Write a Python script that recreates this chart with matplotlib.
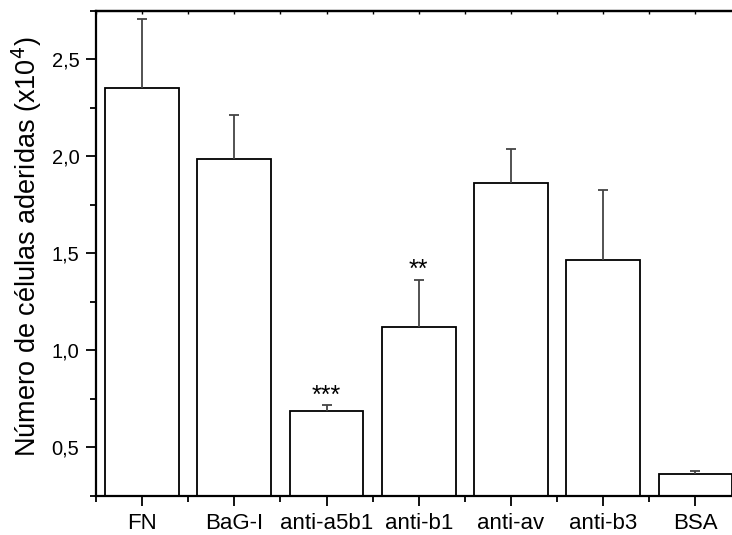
import numpy as np
import matplotlib.pyplot as plt
from matplotlib.ticker import MultipleLocator, FixedLocator

plt.rcParams["font.family"] = ["Liberation Sans", "DejaVu Sans"]

groups = ["FN", "BaG-I", "anti-a5b1", "anti-b1", "anti-av", "anti-b3", "BSA"]
means = [2.35, 1.985, 0.69, 1.12, 1.86, 1.465, 0.365]
errors = [0.355, 0.23, 0.027, 0.243, 0.18, 0.36, 0.015]
stars = ["", "", "***", "**", "", "", ""]

x = np.arange(1, len(groups) + 1)
means = np.array(means)
errors = np.array(errors)

fig = plt.figure(figsize=(7.32, 5.35), dpi=100)
ax = fig.add_axes([0.1311, 0.0729, 0.8819, 0.9071])

ax.bar(x, means, width=0.8, color="white", edgecolor="black", linewidth=1.3, zorder=2)

# upper half of the error bars only
ax.vlines(x, means, means + errors, color="#444444", linewidth=1.3, zorder=3)
ax.plot(x, means + errors, linestyle="none", marker="_", markersize=7.5,
        markeredgewidth=1.3, color="#444444", zorder=3)

for xi, top, s in zip(x, means + errors, stars):
    if s:
        ax.annotate(s, (xi, top), xytext=(0, -1.5), textcoords="offset points",
                    ha="center", va="bottom", fontsize=18)

ax.set_xlim(0.5, 7.5)
ax.set_ylim(0.25, 2.75)

ax.set_xticks(x)
ax.set_xticklabels(groups, fontsize=16)
ax.xaxis.set_minor_locator(FixedLocator(np.arange(0.5, 8.0, 1.0)))
ax.set_yticks([0.5, 1.0, 1.5, 2.0, 2.5])
ax.set_yticklabels(["0,5", "1,0", "1,5", "2,0", "2,5"], fontsize=14.5)
ax.yaxis.set_minor_locator(MultipleLocator(0.25))

ax.tick_params(which="major", direction="out", length=7, width=1.3, pad=5)
ax.tick_params(which="minor", direction="out", length=4, width=1.3)
ax.tick_params(axis="y", which="major", pad=5)

# small inward ticks along the top edge
top = ax.secondary_xaxis("top")
top.set_xticks(np.arange(0.5, 8.0, 0.5))
top.tick_params(direction="in", length=2, width=1.0, labeltop=False)
top.spines["top"].set_linewidth(1.6)

for sp in ax.spines.values():
    sp.set_linewidth(1.6)

ax.set_ylabel("Número de células aderidas (x10$^4$)", fontsize=19.5)
ax.yaxis.set_label_coords(-0.080, 0.514)

fig.savefig("out.png", dpi=100)
